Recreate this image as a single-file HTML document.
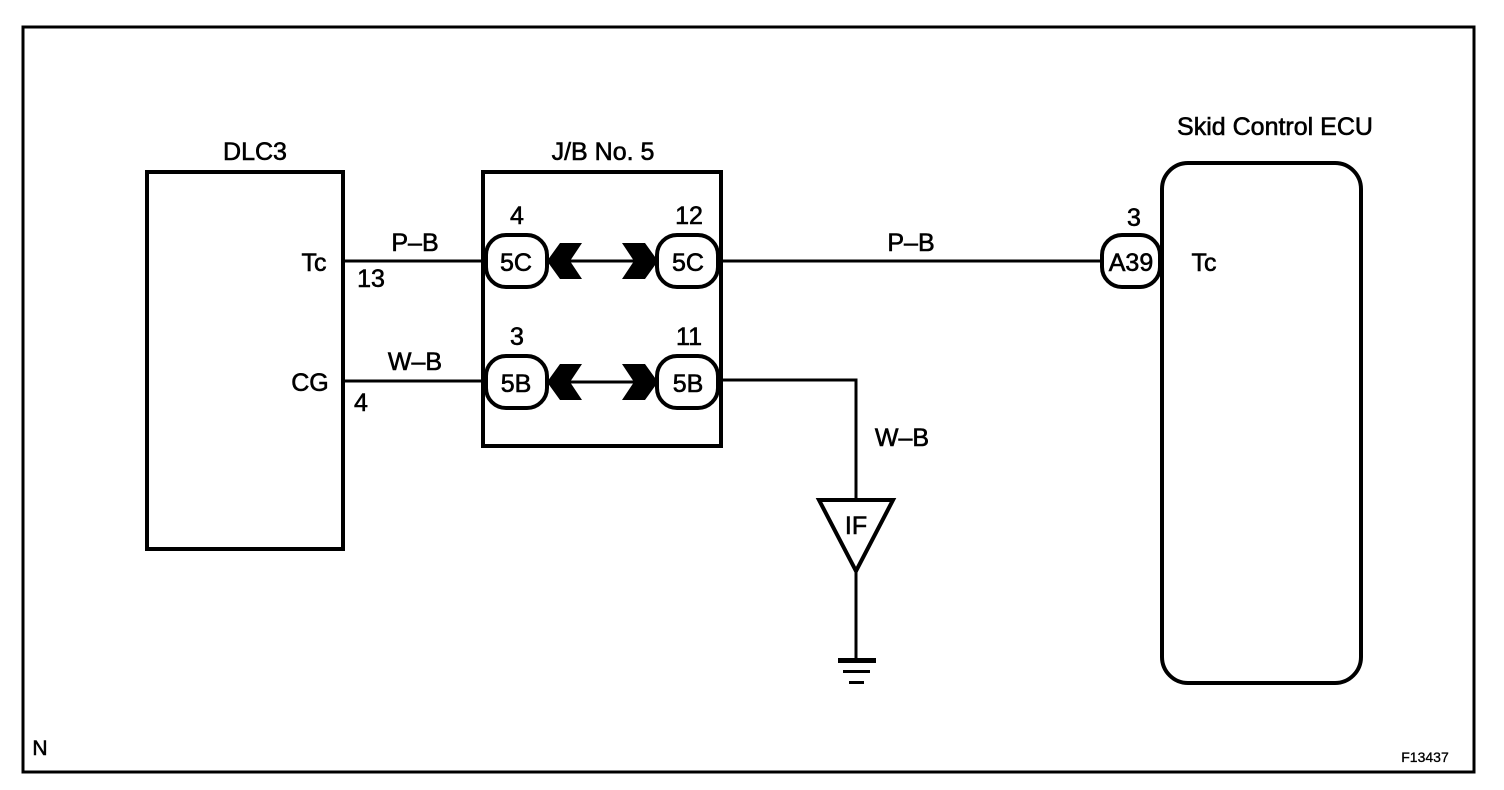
<!DOCTYPE html>
<html><head><style>
html,body{margin:0;padding:0;background:#fff}
svg{display:block}
text{font-family:"Liberation Sans",Arial,sans-serif;fill:#000}
.t{stroke:#000;stroke-width:0.6}
</style></head><body>
<svg width="1504" height="790" viewBox="0 0 1504 790" xmlns="http://www.w3.org/2000/svg">
<rect x="23" y="27" width="1451" height="745" fill="none" stroke="#000" stroke-width="3"/>
<g fill="none" stroke="#000" stroke-width="4">
<rect x="147" y="172" width="196" height="377"/>
<rect x="483" y="172" width="238" height="274"/>
<rect x="1162" y="163" width="199" height="520" rx="26"/>
</g>
<g stroke="#000" stroke-width="3" fill="none">
<line x1="343" y1="261" x2="486" y2="261"/>
<line x1="343" y1="381" x2="486" y2="381"/>
<line x1="560" y1="261" x2="640" y2="261"/>
<line x1="560" y1="382" x2="640" y2="382"/>
<line x1="718" y1="261" x2="1102" y2="261"/>
<polyline points="718,380 856,380 856,500"/>
<line x1="856" y1="570" x2="856" y2="660"/>
</g>
<g fill="#fff" stroke="#000" stroke-width="4">
<rect x="486" y="235" width="61" height="52" rx="20"/>
<rect x="657" y="235" width="61" height="52" rx="20"/>
<rect x="486" y="356" width="61" height="52" rx="20"/>
<rect x="657" y="356" width="61" height="52" rx="20"/>
<rect x="1102" y="235" width="58" height="52" rx="20"/>
<polygon points="819,500 893,500 856,571" stroke-width="4"/>
</g>
<g fill="#000">
<polygon points="547,261 560,243 582,243 570,261 582,279 560,279"/>
<polygon points="547,382 560,364 582,364 570,382 582,400 560,400"/>
<polygon points="658,261 645,243 622,243 634,261 622,279 645,279"/>
<polygon points="658,382 645,364 622,364 634,382 622,400 645,400"/>
<rect x="838" y="658" width="38" height="5"/>
<rect x="843" y="670" width="27" height="3"/>
<rect x="849" y="681" width="15" height="3"/>
</g>
<g font-size="25" class="t">
<text x="255" y="160" text-anchor="middle">DLC3</text>
<text x="603" y="160" text-anchor="middle">J/B No. 5</text>
<text x="1275" y="135" text-anchor="middle">Skid Control ECU</text>
<text x="314" y="271" text-anchor="middle">Tc</text>
<text x="371" y="287" text-anchor="middle">13</text>
<text x="310" y="391" text-anchor="middle">CG</text>
<text x="361" y="411" text-anchor="middle">4</text>
<text x="415" y="251" text-anchor="middle">P–B</text>
<text x="415" y="370" text-anchor="middle">W–B</text>
<text x="517" y="224" text-anchor="middle">4</text>
<text x="689" y="224" text-anchor="middle">12</text>
<text x="517" y="345" text-anchor="middle">3</text>
<text x="689" y="345" text-anchor="middle">11</text>
<text x="516" y="271" text-anchor="middle">5C</text>
<text x="688" y="271" text-anchor="middle">5C</text>
<text x="516" y="392" text-anchor="middle">5B</text>
<text x="688" y="392" text-anchor="middle">5B</text>
<text x="911" y="251" text-anchor="middle">P–B</text>
<text x="902" y="446" text-anchor="middle">W–B</text>
<text x="1134" y="226" text-anchor="middle">3</text>
<text x="1131" y="271" text-anchor="middle">A39</text>
<text x="1204" y="271" text-anchor="middle">Tc</text>
<text x="856" y="534" text-anchor="middle">IF</text>
<text x="40" y="755" text-anchor="middle" font-size="21">N</text>
<text x="1425" y="762" text-anchor="middle" font-size="14" stroke-width="0.3">F13437</text>
</g>
</svg>
</body></html>
